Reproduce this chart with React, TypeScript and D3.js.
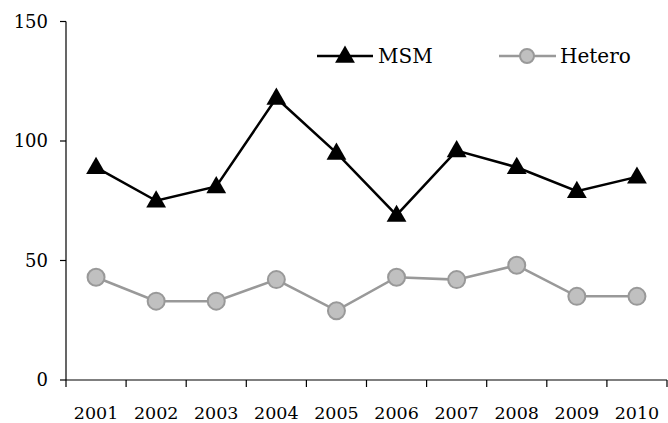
import * as d3 from 'd3';
import { useEffect, useRef } from 'react';

const years = ['2001', '2002', '2003', '2004', '2005', '2006', '2007', '2008', '2009', '2010'];
const msm = [89, 75, 81, 118, 95, 69, 96, 89, 79, 85];
const hetero = [43, 33, 33, 42, 29, 43, 42, 48, 35, 35];
const yTicks = [0, 50, 100, 150];

const width = 668;
const height = 423;
const FONT = '"DejaVu Serif", serif';

const App: React.FC = () => {
    const svgRef = useRef<SVGSVGElement | null>(null);

    useEffect(() => {
        if (!svgRef.current) return;
        const svg = d3.select(svgRef.current);
        svg.selectAll('*').remove();

        const x = d3.scaleBand<string>().domain(years).range([66, 667]);
        const y = d3.scaleLinear().domain([0, 150]).range([380, 21.5]);
        const cx = (d: string) => x(d)! + x.bandwidth() / 2;

        // y axis
        const yAxis = svg.append('g').attr('transform', 'translate(66,0)');
        yAxis.append('line').attr('y1', y(150)).attr('y2', y(0)).attr('stroke', '#000').attr('stroke-width', 1.2);
        const yt = yAxis
            .selectAll('g')
            .data(yTicks)
            .join('g')
            .attr('transform', (d) => `translate(0,${y(d)})`);
        yt.append('line').attr('x1', -6).attr('x2', 0).attr('stroke', '#000').attr('stroke-width', 1.2);
        yt.append('text')
            .attr('x', -18)
            .attr('dy', '0.36em')
            .attr('text-anchor', 'end')
            .style('font-family', FONT)
            .style('font-size', '18px')
            .text((d) => d);

        // x axis
        const xAxis = svg.append('g').attr('transform', `translate(0,${y(0)})`);
        xAxis.append('line').attr('x1', 66).attr('x2', 667).attr('stroke', '#000').attr('stroke-width', 1.2);
        const edges = years.map((d) => x(d)!).concat([667]);
        xAxis
            .selectAll('.tick')
            .data(edges)
            .join('line')
            .attr('class', 'tick')
            .attr('x1', (d) => d)
            .attr('x2', (d) => d)
            .attr('y1', 0)
            .attr('y2', 7)
            .attr('stroke', '#000')
            .attr('stroke-width', 1.2);
        xAxis
            .selectAll('text')
            .data(years)
            .join('text')
            .attr('x', (d) => cx(d))
            .attr('y', 39)
            .attr('text-anchor', 'middle')
            .style('font-family', FONT)
            .style('font-size', '17.5px')
            .text((d) => d);

        const line = d3
            .line<number>()
            .x((_, i) => cx(years[i]))
            .y((d) => y(d));

        const tri = d3.symbol().type(d3.symbolTriangle).size(170);

        // Hetero
        svg.append('path')
            .attr('d', line(hetero))
            .attr('fill', 'none')
            .attr('stroke', '#999999')
            .attr('stroke-width', 2.5);
        svg.append('g')
            .selectAll('circle')
            .data(hetero)
            .join('circle')
            .attr('cx', (_, i) => cx(years[i]))
            .attr('cy', (d) => y(d))
            .attr('r', 8.5)
            .attr('fill', '#c0c0c0')
            .attr('stroke', '#999999')
            .attr('stroke-width', 2);

        // MSM
        svg.append('path')
            .attr('d', line(msm))
            .attr('fill', 'none')
            .attr('stroke', '#000')
            .attr('stroke-width', 2.5);
        svg.append('g')
            .selectAll('path')
            .data(msm)
            .join('path')
            .attr('d', tri)
            .attr('transform', (d, i) => `translate(${cx(years[i])},${y(d) + 1})`)
            .attr('fill', '#000');

        // legend
        const lg = svg.append('g');
        lg.append('line').attr('x1', 317).attr('x2', 373).attr('y1', 56).attr('y2', 56).attr('stroke', '#000').attr('stroke-width', 2.5);
        lg.append('path').attr('d', tri).attr('transform', 'translate(345,57)').attr('fill', '#000');
        lg.append('text')
            .attr('x', 378)
            .attr('y', 63)
            .style('font-family', FONT)
            .style('font-size', '20px')
            .text('MSM');
        lg.append('line').attr('x1', 499).attr('x2', 556).attr('y1', 56).attr('y2', 56).attr('stroke', '#999999').attr('stroke-width', 2.5);
        lg.append('circle').attr('cx', 527).attr('cy', 56).attr('r', 7).attr('fill', '#c0c0c0').attr('stroke', '#999999').attr('stroke-width', 2);
        lg.append('text')
            .attr('x', 560)
            .attr('y', 63)
            .style('font-family', FONT)
            .style('font-size', '20px')
            .text('Hetero');
    }, []);

    return (
        <svg
            ref={svgRef}
            width={width}
            height={height}
            style={{ position: 'absolute', left: 0, top: 0, display: 'block', background: '#fff' }}
        ></svg>
    );
};

export default App;
